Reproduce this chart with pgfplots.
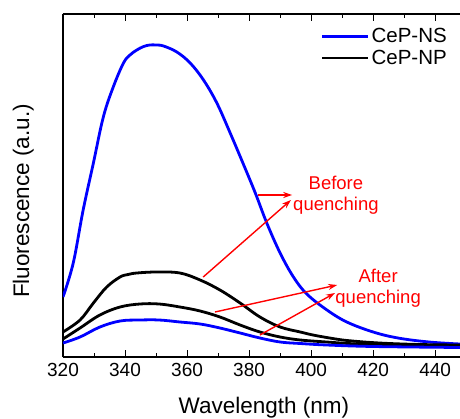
\documentclass[border=0pt]{standalone}
\usepackage{pgfplots}
\pgfplotsset{compat=1.18}
\usepackage{fontspec}
\setmainfont{Liberation Sans}
\usetikzlibrary{arrows.meta}
\begin{document}
\begin{tikzpicture}
\begin{axis}[
  name=ax,
  scale only axis,
  width=397pt, height=343pt,
  xmin=320, xmax=448, ymin=0, ymax=343,
  axis x line=box, axis y line=left,
  axis line style={-, line width=1.1pt},
  xtick={320,340,...,440},
  minor x tick num=1,
  ytick=\empty,
  tick align=inside,
  major tick length=7pt, minor tick length=4pt,
  tick style={line width=1pt, black},
  ticklabel style={font=\fontsize{19}{22}\selectfont},
  /pgf/number format/assume math mode=true,
  xticklabel style={yshift=-3pt},
  xlabel={Wavelength (nm)},
  ylabel={Fluorescence (a.u.)},
  xlabel style={font=\fontsize{22.5}{26}\selectfont, at={(axis description cs:0.506,-0.149)}, anchor=center},
  ylabel style={font=\fontsize{22.5}{26}\selectfont, at={(axis description cs:-0.1,0.455)}, anchor=center, rotate=0},
  legend style={at={(axis description cs:1,1)}, anchor=north east, draw=none, fill=none,
    font=\fontsize{20.5}{23}\selectfont, xshift=-8pt, yshift=-10pt, row sep=2pt},
  legend cell align=left,
  legend image code/.code={\draw[#1, sharp plot] (0pt,0pt) -- (46pt,0pt);},
]
\addplot[blue, line width=2.8pt, smooth, tension=0.6] coordinates {
(320,60) (323.3,94) (326.5,147) (329.8,194) (333,240) (336.2,270) (339.5,294) (341.6,302) (343.8,307) (346,310.5) (348,312) (350,312) (352.4,311) (356.7,305) (361,294) (365.3,277) (369.6,254) (373.9,224) (378,194) (382,164) (385.7,134) (390,104) (394.3,80) (398.6,63) (405.1,47) (411.5,35) (420,25) (428,19) (438,15) (448,13)};
\addlegendentry{CeP-NS}
\addplot[black, line width=2.8pt, smooth, tension=0.6] coordinates {
(320,25) (325.5,37) (329.8,54) (334.1,70) (338.4,80) (341,82.5) (343.8,84) (350.2,85) (357.7,84) (364.2,77) (370.6,67) (377.1,54) (383.5,40) (390,30) (396.5,25) (400.6,22) (406,19) (411.6,16.5) (422,14) (435,12.5) (448,12)};
\addlegendentry{CeP-NP}
\addplot[black, line width=2.8pt, smooth, tension=0.6, forget plot] coordinates {
(320,18) (325.5,29) (331.9,42) (338.4,50) (344.8,53) (351,53) (357.7,50) (364.2,46) (370.6,40) (377.1,32) (383.5,25) (390,20) (396.5,17) (405,15) (415,13) (430,11.5) (448,10.5)};
\addplot[blue, line width=2.8pt, smooth, tension=0.6, forget plot] coordinates {
(320,14) (325.5,20) (331.9,30) (338.4,36) (344.8,37) (351,37) (357.7,35) (364.2,33) (370.6,29) (377.1,24) (383.5,19) (390,15) (396.5,13.5) (405,12) (420,10.5) (448,9.5)};
\draw[red, line width=1.4pt, -{Stealth[length=9pt,width=6pt]}] (axis cs:382.9,162) -- (axis cs:393.9,162);
\draw[red, line width=1.4pt, -{Stealth[length=9pt,width=6pt]}] (axis cs:365.2,80) -- (axis cs:393.5,157);
\draw[red, line width=1.4pt, -{Stealth[length=9pt,width=6pt]}] (axis cs:369.0,45) -- (axis cs:408.4,72);
\draw[red, line width=1.4pt, -{Stealth[length=9pt,width=6pt]}] (axis cs:383.5,22) -- (axis cs:407.7,64);
\node[red, font=\fontsize{18.5}{21}\selectfont, align=center] at (axis cs:408.0,162) {Before\\quenching};
\node[red, font=\fontsize{18.5}{21}\selectfont, align=center] at (axis cs:421.6,69) {After\\quenching};
\end{axis}
\pgfresetboundingbox
\path[use as bounding box] ([xshift=-63pt,yshift=-61pt]ax.south west) rectangle ([yshift=14pt]ax.north east);
\end{tikzpicture}
\end{document}
